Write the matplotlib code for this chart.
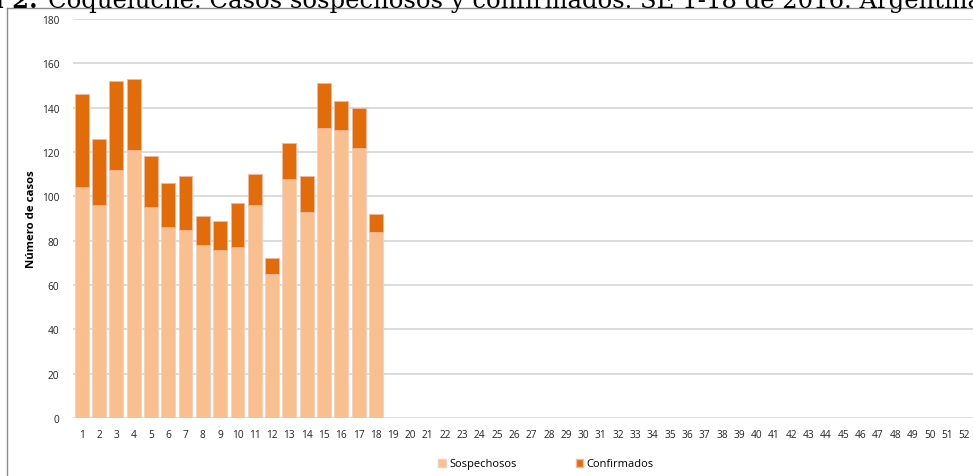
#!/usr/bin/env python3
"""
Coqueluche: casos sospechosos y confirmados por semana epidemiologica (SE 1-18, 2016).
Stacked bar chart, Excel-like style.
"""

import matplotlib
matplotlib.use("Agg")
import matplotlib.pyplot as plt
import matplotlib.patches as mpatches
from matplotlib.lines import Line2D

# =============================================================================
# Data
# =============================================================================

WEEKS = list(range(1, 53))
SOSPECHOSOS = [104, 96, 112, 121, 95, 86, 85, 78, 76, 77, 96, 65, 108, 93, 131, 130, 122, 84]
CONFIRMADOS = [42, 30, 40, 32, 23, 20, 24, 13, 13, 20, 14, 7, 16, 16, 20, 13, 18, 8]
Y_TICKS = [0, 20, 40, 60, 80, 100, 120, 140, 160, 180]

TITLE_BOLD = "Figura 2:"
TITLE_REST = "Coqueluche. Casos sospechosos y confirmados. SE 1-18 de 2016. Argentina"

# =============================================================================
# Style
# =============================================================================

W, H = 973, 477
DPI = 100
COL_SOSP = "#F9BF8F"
COL_CONF = "#E36C0A"
GRID = "#D9D9D9"
TICK_FONT = "Open Sans"

fig = plt.figure(figsize=(W / DPI, H / DPI), dpi=DPI)
ax = fig.add_axes([73 / W, 1 - 419 / H, 900 / W, 399 / H])

x = list(range(len(SOSPECHOSOS)))
ax.bar(x, SOSPECHOSOS, width=0.8, color=COL_SOSP, edgecolor="#F2D0C0", linewidth=0.6,
       zorder=3, label="Sospechosos")
ax.bar(x, CONFIRMADOS, width=0.8, bottom=SOSPECHOSOS, color=COL_CONF, edgecolor="#F2B8A0",
       linewidth=0.6, zorder=3, label="Confirmados")

ax.set_xlim(-0.5, len(WEEKS) - 0.5)
ax.set_ylim(0, 180)
ax.set_xticks(range(len(WEEKS)))
ax.set_xticklabels([str(w) for w in WEEKS])
ax.set_yticks(Y_TICKS)
for s in ax.spines.values():
    s.set_visible(False)
ax.yaxis.grid(True, color=GRID, linewidth=1.3, zorder=0)
ax.tick_params(axis="both", length=0, labelsize=7.3, colors="#222222")
ax.tick_params(axis="y", pad=10)
ax.tick_params(axis="x", pad=8)
for lab in ax.get_xticklabels() + ax.get_yticklabels():
    lab.set_fontfamily(TICK_FONT)

ax.set_ylabel("Número de casos", fontsize=8.2, fontweight="bold", family=TICK_FONT)
ax.yaxis.set_label_coords(-36 / 900, 0.5)

# legend
handles = [mpatches.Patch(facecolor=COL_SOSP, edgecolor="#F2D0C0", label="Sospechosos"),
           mpatches.Patch(facecolor=COL_CONF, edgecolor="#F2B8A0", label="Confirmados")]
fig.legend(handles=handles, loc="center", bbox_to_anchor=(546 / W, 1 - 465 / H), ncol=2,
           frameon=False, handlelength=0.7, handleheight=0.7, handletextpad=0.3,
           columnspacing=5.3, prop={"family": TICK_FONT, "size": 8})

# outer frame (only top and left visible)
fig.add_artist(Line2D([7 / W, 1], [1 - 9 / H, 1 - 9 / H], transform=fig.transFigure,
                      color="#8C8C8C", linewidth=1.0))
fig.add_artist(Line2D([7 / W, 7 / W], [0, 1 - 9 / H], transform=fig.transFigure,
                      color="#8C8C8C", linewidth=1.0))

# title, clipped by the top of the image as in the source page
fig.text(38 / W, 1 - 8 / H, TITLE_BOLD, ha="right", va="baseline", fontsize=17.5,
         family="DejaVu Serif", fontweight="bold")
fig.text(48 / W, 1 - 8 / H, TITLE_REST, ha="left", va="baseline", fontsize=17.5,
         family="DejaVu Serif")

fig.savefig("out.png", dpi=DPI)
